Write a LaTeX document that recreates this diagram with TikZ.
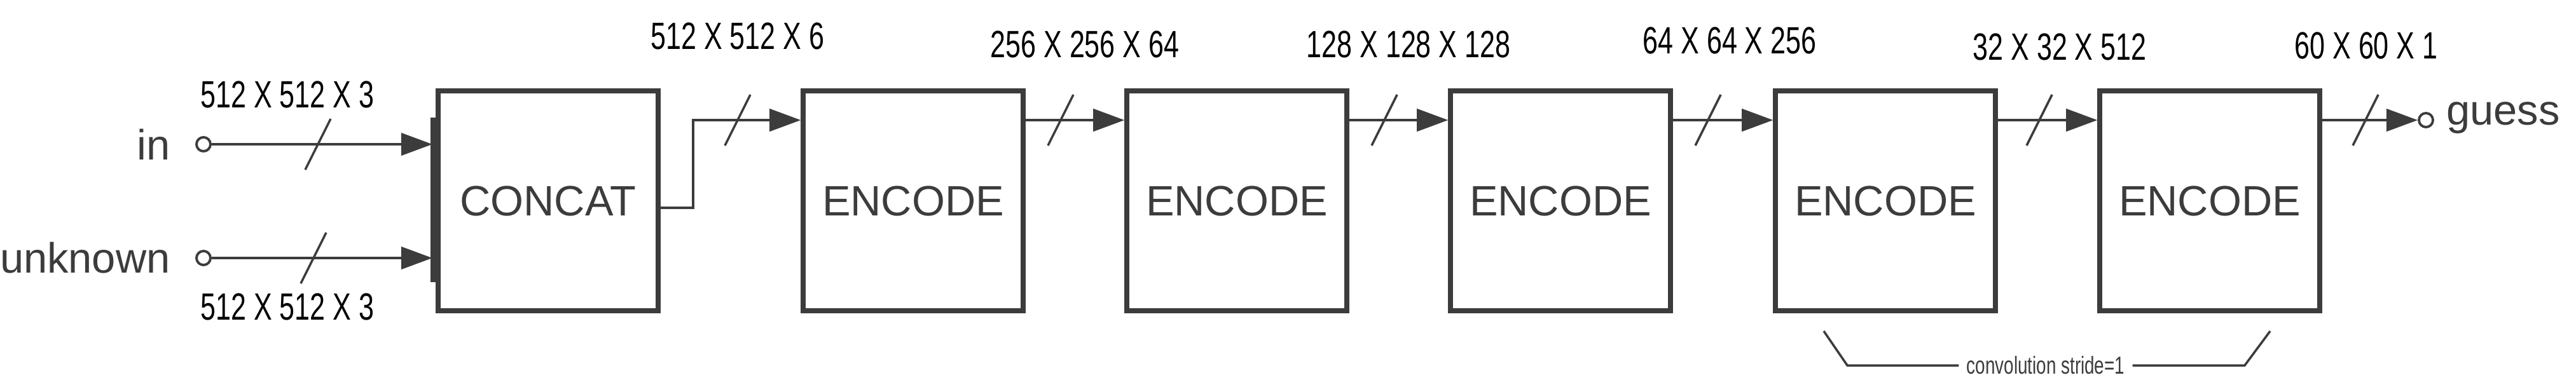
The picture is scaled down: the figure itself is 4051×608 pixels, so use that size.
\documentclass[tikz,border=0pt]{standalone}
\usepackage{fontspec}
\setmainfont{Liberation Sans}
\newfontfamily\cond{Liberation Sans}[FakeStretch=0.72]
\usetikzlibrary{calc,arrows.meta}
\definecolor{dk}{HTML}{3C3C3C}
\begin{document}
\begin{tikzpicture}[x=0.01cm,y=-0.01cm,
  blk/.style={draw=dk,line width=2.3pt,minimum width=3.45cm,minimum height=3.45cm,inner sep=0pt,font=\fontsize{19}{19}\selectfont,text=dk},
  wire/.style={draw=dk,line width=1.2pt},
  arr/.style={wire,-{Triangle[length=14pt,width=10pt]}},
  term/.style={circle,draw=dk,line width=1.1pt,minimum size=0.22cm,inner sep=0pt},
  dim/.style={font=\cond\fontsize{17}{17}\selectfont},
  lbl/.style={font=\fontsize{19}{19}\selectfont,text=dk},
  sl/.style={draw=dk,line width=1pt}]
\useasboundingbox (0,0) rectangle (4051,608);
\node[blk] (cc) at (862,316) {CONCAT};
\draw[dk,line width=3pt] (682,185) -- (682,444);
\node[blk] (e1) at (1436,316) {ENCODE};
\node[blk] (e2) at (1945,316) {ENCODE};
\node[blk] (e3) at (2454,316) {ENCODE};
\node[blk] (e4) at (2965,316) {ENCODE};
\node[blk] (e5) at (3475,316) {ENCODE};
\node[term] (in) at (320,227) {};
\node[term] (un) at (320,406) {};
\node[term] (gs) at (3815,189) {};
\node[lbl,anchor=east] at (280,227) {in};
\node[lbl,anchor=east] at (280,406) {unknown};
\node[lbl,anchor=west] at (3835,185) {guess};
\coordinate (ia) at (680,227);
\coordinate (ua) at (680,406);
\draw[arr] (in) -- (ia);
\draw[arr] (un) -- (ua);
\coordinate (k1) at (1090,327);
\coordinate (k2) at (1090,189);
\draw[arr] (cc.east |- k1) -- (k1) -- (k2) -- (e1.west |- k2);
\draw[arr] (e1.east |- k2) -- (e2.west |- k2);
\draw[arr] (e2.east |- k2) -- (e3.west |- k2);
\draw[arr] (e3.east |- k2) -- (e4.west |- k2);
\draw[arr] (e4.east |- k2) -- (e5.west |- k2);
\draw[arr] (e5.east |- k2) -- (gs.west);
\foreach \x/\y in {500/227,493/406,1160/189,1668/189,2177/189,2686/189,3207/189,3720/189}
  \draw[sl] (\x-20,\y+40) -- (\x+20,\y-40);
\node[dim] at (452,149) {512 X 512 X 3};
\node[dim] at (452,483) {512 X 512 X 3};
\node[dim] at (1160,57) {512 X 512 X 6};
\node[dim] at (1706,70) {256 X 256 X 64};
\node[dim] at (2215,70) {128 X 128 X 128};
\node[dim] at (2720,64) {64 X 64 X 256};
\node[dim] at (3239,74) {32 X 32 X 512};
\node[dim] at (3721,72) {60 X 60 X 1};
\node[font=\cond\fontsize{11}{11}\selectfont,text=dk] (cv) at (3217,575) {convolution stride=1};
\coordinate (b1) at (2868,521);
\coordinate (b2) at (2905,575);
\coordinate (b3) at (3530,575);
\coordinate (b4) at (3570,521);
\draw[wire,line width=1pt] (b1) -- (b2) -- (cv.west);
\draw[wire,line width=1pt] (cv.east) -- (b3) -- (b4);
\end{tikzpicture}
\end{document}
